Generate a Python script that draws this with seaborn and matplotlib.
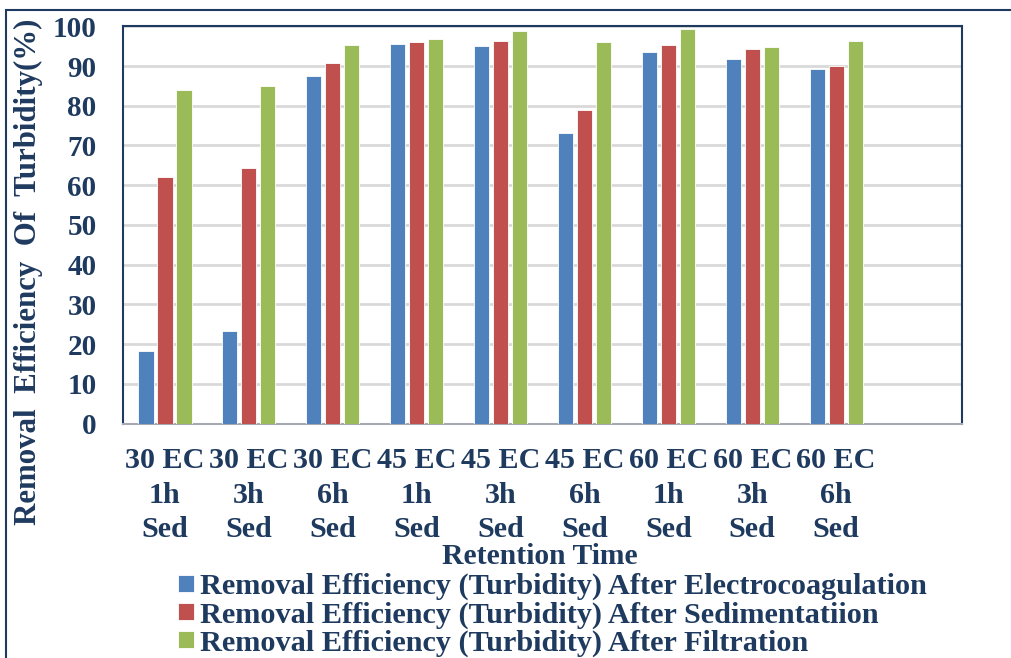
import matplotlib
matplotlib.use("Agg")
import matplotlib.pyplot as plt
from matplotlib.patches import Rectangle
import seaborn as sns
import pandas as pd

# Retention-time conditions (EC time + sedimentation time)
categories = ["30 EC\n1h\nSed", "30 EC\n3h\nSed", "30 EC\n6h\nSed",
              "45 EC\n1h\nSed", "45 EC\n3h\nSed", "45 EC\n6h\nSed",
              "60 EC\n1h\nSed", "60 EC\n3h\nSed", "60 EC\n6h\nSed"]

series_names = ["Removal Efficiency (Turbidity) After Electrocoagulation",
                "Removal Efficiency (Turbidity) After Sedimentatiion",
                "Removal Efficiency (Turbidity) After Filtration"]

after_ec = [18.3, 23.3, 87.6, 95.5, 95.0, 73.1, 93.5, 91.8, 89.2]
after_sed = [62.1, 64.4, 90.7, 96.1, 96.2, 79.0, 95.3, 94.3, 89.9]
after_filt = [84.0, 85.0, 95.3, 96.7, 98.7, 96.0, 99.4, 94.7, 96.3]

y_ticks = [0, 10, 20, 30, 40, 50, 60, 70, 80, 90, 100]

colors = ["#4F81BD", "#C0504D", "#9BBB59"]
navy = "#1F3A5F"

df = pd.DataFrame({
    "Retention Time": categories * 3,
    "value": after_ec + after_sed + after_filt,
    "series": [series_names[0]] * 9 + [series_names[1]] * 9 + [series_names[2]] * 9,
})

sns.set_theme(style="white")
plt.rcParams["font.family"] = ["Liberation Serif", "DejaVu Serif"]
plt.rcParams["font.weight"] = "bold"

fig = plt.figure(figsize=(10.11, 6.58), dpi=100)
ax = fig.add_axes([123 / 1011, 1 - 423.5 / 658, (962 - 123) / 1011, (423.5 - 26.3) / 658])

sns.barplot(data=df, x="Retention Time", y="value", hue="series",
            order=categories, hue_order=series_names, palette=colors,
            width=0.68, gap=0.2, edgecolor="white", linewidth=0.6,
            saturation=1, legend=True, ax=ax, zorder=3)

ax.set_xlim(-0.5, 9.5)
ax.set_ylim(0, 100)
ax.set_yticks(y_ticks)
ax.yaxis.grid(True, color="#D9D9D9", linewidth=2, zorder=0)
ax.set_axisbelow(True)

ax.tick_params(axis="both", length=0, colors=navy)
ax.tick_params(axis="y", pad=19, labelsize=21)
ax.tick_params(axis="x", pad=17, labelsize=21.7)
for lab in ax.get_xticklabels() + ax.get_yticklabels():
    lab.set_fontweight("bold")
    lab.set_color(navy)
for lab in ax.get_xticklabels():
    lab.set_linespacing(1.36)

for side in ["left", "top", "right"]:
    ax.spines[side].set_color(navy)
    ax.spines[side].set_linewidth(1.5)
ax.spines["bottom"].set_color("#A6AAB5")
ax.spines["bottom"].set_linewidth(1.5)

ax.set_xlabel("")
ax.set_ylabel("")
fig.text(540 / 1011, 1 - 557 / 658, "Retention Time", ha="center", va="center",
         fontsize=21.3, fontweight="bold", color=navy)
fig.text(28 / 1011, 1 - 272 / 658, "Removal  Efficiency  Of  Turbidity(%)",
         rotation=90, ha="center", va="center", fontsize=22.2,
         fontweight="bold", color=navy)

handles, labels = ax.get_legend_handles_labels()
ax.get_legend().remove()
leg = fig.legend(handles, labels, loc="upper left",
                 bbox_to_anchor=(178 / 1011, 1 - 573 / 658),
                 frameon=False, fontsize=21.8, labelspacing=0.03,
                 handlelength=0.53, handleheight=0.5, handletextpad=0.2,
                 borderaxespad=0, borderpad=0)
for t in leg.get_texts():
    t.set_color(navy)
    t.set_fontweight("bold")

# Outer chart frame (top and left edges)
fig.patches.append(Rectangle((6 / 1011, -0.1), 1.2, 1 - 10 / 658 + 0.1,
                             transform=fig.transFigure, fill=False,
                             edgecolor=navy, linewidth=1.5))

fig.savefig("out.png", dpi=100)
